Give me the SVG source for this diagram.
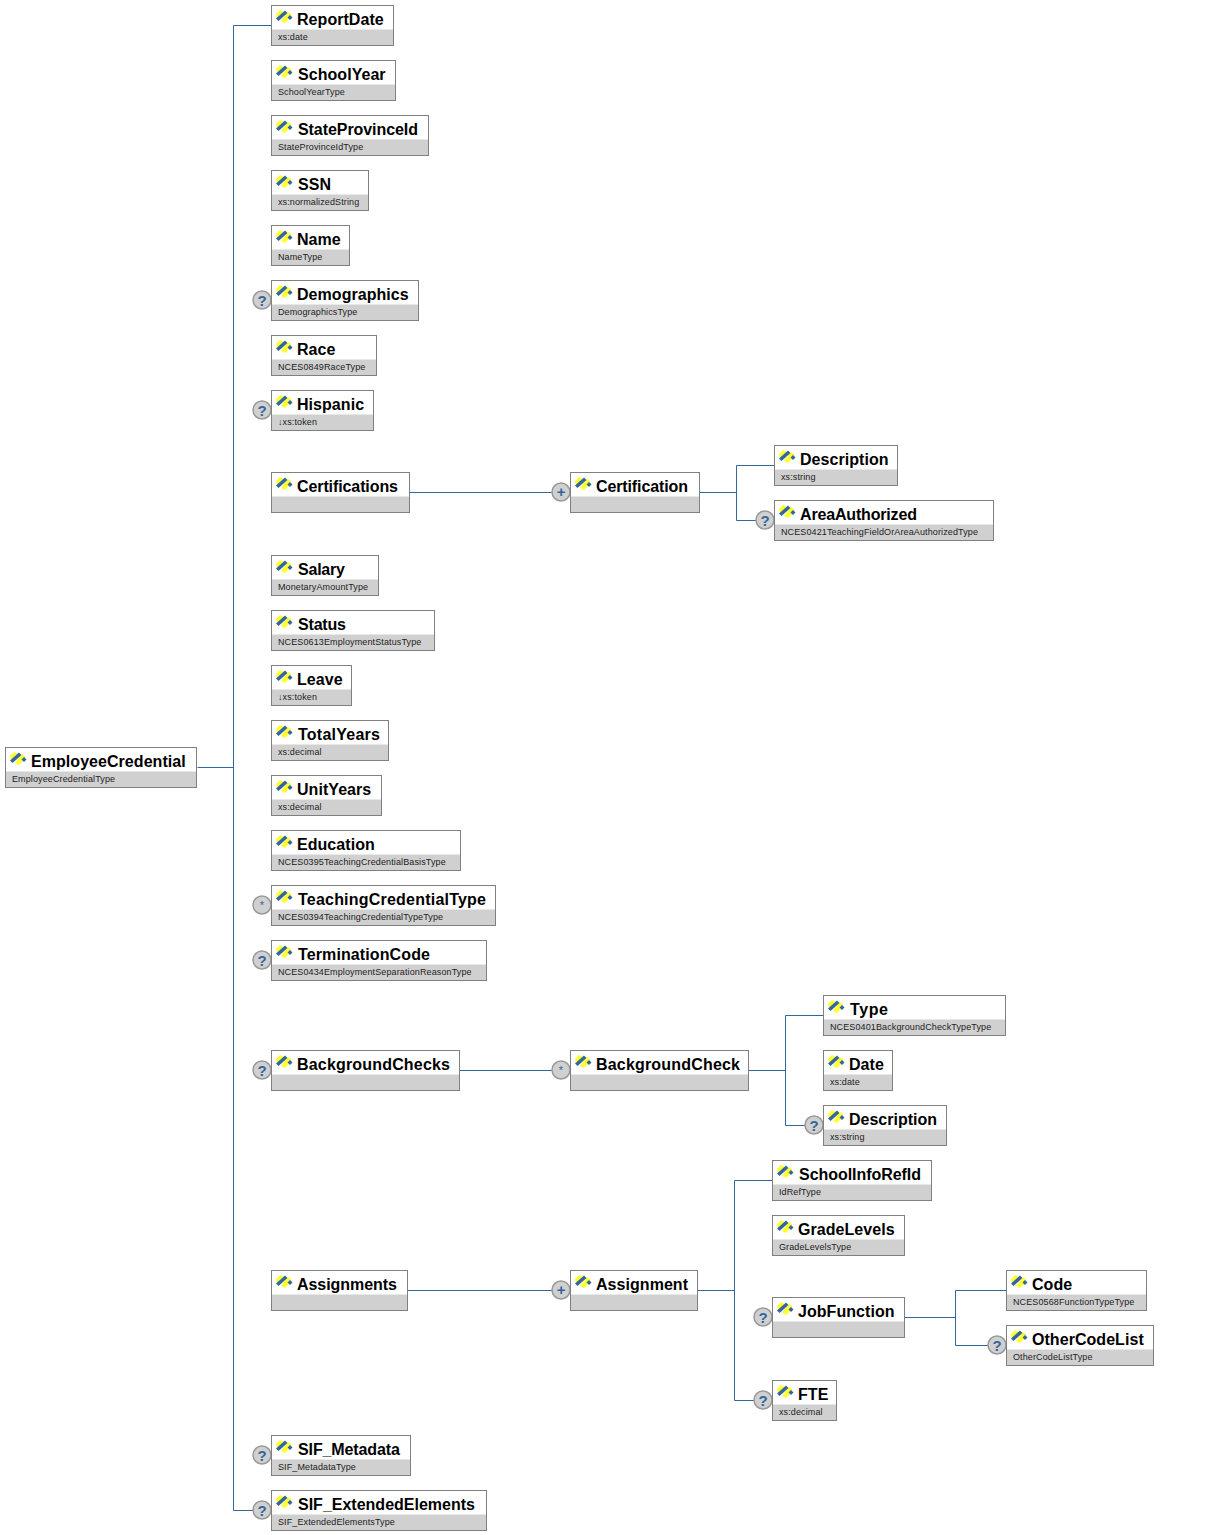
<svg xmlns="http://www.w3.org/2000/svg" width="1212" height="1535" viewBox="0 0 1212 1535">
<style>
.b{fill:#fff;stroke:#808080;stroke-width:1}
.g{fill:#d0d0d0}
.h{fill:#e8e8e8}
.t{font-family:"Liberation Sans",Arial,sans-serif;font-weight:700;font-size:16px;letter-spacing:.05px;fill:#000}
.s{font-family:"Liberation Sans",Arial,sans-serif;font-size:9px;letter-spacing:.12px;fill:#222}
.c{fill:none;stroke:#336699;stroke-width:1}
.o{fill:#d0d0d0;stroke:#999;stroke-width:1.5}
.m{font-family:"Liberation Sans",Arial,sans-serif;font-weight:700;font-size:15px;fill:#336699;text-anchor:middle}
</style>
<defs>
<g id="i"><path d="M0 4 4 0 8 2 1 8zM5 11 12 2 15 4 15 7 9 13z" fill="#ffff33"/><path d="M0 8.500 9 .5 11.500 3 2.500 11z" fill="#336699"/><path d="M14 5 16.500 7.500 14 10 11.500 7.500z" fill="#336699"/></g>
<g id="q"><circle cx="0" cy="0" r="9" class="o"/><text y="5.500" class="m">?</text></g>
<g id="p"><circle cx="0" cy="0" r="9" class="o"/><text y="5" class="m">+</text></g>
<g id="a"><circle cx="0" cy="0" r="9" class="o"/><text y="3.500" class="m" style="font-size:11px;font-weight:400">*</text></g>
</defs>
<g id="connectors">
<path class="c" d="M197.500 767.500H233.500M233.500 25.500V1510.500M233.500 25.500H271M233.500 1510.500H262"/>
<path class="c" d="M410 492.500H561M700 492.500H736.500M736.500 465.500V520.500M736.500 465.500H774M736.500 520.500H765"/>
<path class="c" d="M460 1070.500H561M749 1070.500H785.500M785.500 1015.500V1125.500M785.500 1015.500H823M785.500 1125.500H814"/>
<path class="c" d="M408 1290.500H561M698 1290.500H734.500M734.500 1180.500V1400.500M734.500 1180.500H772M734.500 1400.500H763"/>
<path class="c" d="M905 1317.500H955.500M955.500 1290.500V1345.500M955.500 1290.500H1006M955.500 1345.500H997"/>
</g>
<g id="EmployeeCredential"><rect class="b" x="5.500" y="747.500" width="191" height="40"/><rect class="h" x="6" y="771" width="190" height="1"/><rect class="g" x="6" y="772" width="190" height="15"/><use href="#i" x="10" y="752"/><text class="t" x="31" y="767">EmployeeCredential</text><text class="s" x="12" y="782">EmployeeCredentialType</text></g>
<g id="ReportDate"><rect class="b" x="271.500" y="5.500" width="122" height="40"/><rect class="h" x="272" y="29" width="121" height="1"/><rect class="g" x="272" y="30" width="121" height="15"/><use href="#i" x="276" y="10"/><text class="t" x="297" y="25">ReportDate</text><text class="s" x="278" y="40">xs:date</text></g>
<g id="SchoolYear"><rect class="b" x="271.500" y="60.500" width="124" height="40"/><rect class="h" x="272" y="84" width="123" height="1"/><rect class="g" x="272" y="85" width="123" height="15"/><use href="#i" x="276" y="65"/><text class="t" x="298" y="80">SchoolYear</text><text class="s" x="278" y="95">SchoolYearType</text></g>
<g id="StateProvinceId"><rect class="b" x="271.500" y="115.500" width="157" height="40"/><rect class="h" x="272" y="139" width="156" height="1"/><rect class="g" x="272" y="140" width="156" height="15"/><use href="#i" x="276" y="120"/><text class="t" x="298" y="135" textLength="120">StateProvinceId</text><text class="s" x="278" y="150">StateProvinceIdType</text></g>
<g id="SSN"><rect class="b" x="271.500" y="170.500" width="97" height="40"/><rect class="h" x="272" y="194" width="96" height="1"/><rect class="g" x="272" y="195" width="96" height="15"/><use href="#i" x="276" y="175"/><text class="t" x="298" y="190">SSN</text><text class="s" x="278" y="205">xs:normalizedString</text></g>
<g id="Name"><rect class="b" x="271.500" y="225.500" width="78" height="40"/><rect class="h" x="272" y="249" width="77" height="1"/><rect class="g" x="272" y="250" width="77" height="15"/><use href="#i" x="276" y="230"/><text class="t" x="297" y="245">Name</text><text class="s" x="278" y="260">NameType</text></g>
<g id="Demographics"><use href="#q" x="262" y="300"/><rect class="b" x="271.500" y="280.500" width="147" height="40"/><rect class="h" x="272" y="304" width="146" height="1"/><rect class="g" x="272" y="305" width="146" height="15"/><use href="#i" x="276" y="285"/><text class="t" x="297" y="300">Demographics</text><text class="s" x="278" y="315">DemographicsType</text></g>
<g id="Race"><rect class="b" x="271.500" y="335.500" width="105" height="40"/><rect class="h" x="272" y="359" width="104" height="1"/><rect class="g" x="272" y="360" width="104" height="15"/><use href="#i" x="276" y="340"/><text class="t" x="297" y="355">Race</text><text class="s" x="278" y="370">NCES0849RaceType</text></g>
<g id="Hispanic"><use href="#q" x="262" y="410"/><rect class="b" x="271.500" y="390.500" width="102" height="40"/><rect class="h" x="272" y="414" width="101" height="1"/><rect class="g" x="272" y="415" width="101" height="15"/><use href="#i" x="276" y="395"/><text class="t" x="297" y="410">Hispanic</text><text class="s" x="278" y="425">↓xs:token</text></g>
<g id="Certifications"><rect class="b" x="271.500" y="472.500" width="138" height="40"/><rect class="h" x="272" y="496" width="137" height="1"/><rect class="g" x="272" y="497" width="137" height="15"/><use href="#i" x="276" y="477"/><text class="t" x="297" y="492" textLength="101">Certifications</text></g>
<g id="Certification"><use href="#p" x="561" y="492"/><rect class="b" x="570.500" y="472.500" width="129" height="40"/><rect class="h" x="571" y="496" width="128" height="1"/><rect class="g" x="571" y="497" width="128" height="15"/><use href="#i" x="575" y="477"/><text class="t" x="596" y="492" textLength="92">Certification</text></g>
<g id="Description1"><rect class="b" x="774.500" y="445.500" width="123" height="40"/><rect class="h" x="775" y="469" width="122" height="1"/><rect class="g" x="775" y="470" width="122" height="15"/><use href="#i" x="779" y="450"/><text class="t" x="800" y="465">Description</text><text class="s" x="781" y="480">xs:string</text></g>
<g id="AreaAuthorized"><use href="#q" x="765" y="520"/><rect class="b" x="774.500" y="500.500" width="219" height="40"/><rect class="h" x="775" y="524" width="218" height="1"/><rect class="g" x="775" y="525" width="218" height="15"/><use href="#i" x="779" y="505"/><text class="t" x="800" y="520" textLength="117">AreaAuthorized</text><text class="s" x="781" y="535">NCES0421TeachingFieldOrAreaAuthorizedType</text></g>
<g id="Salary"><rect class="b" x="271.500" y="555.500" width="107" height="40"/><rect class="h" x="272" y="579" width="106" height="1"/><rect class="g" x="272" y="580" width="106" height="15"/><use href="#i" x="276" y="560"/><text class="t" x="298" y="575" textLength="47">Salary</text><text class="s" x="278" y="590">MonetaryAmountType</text></g>
<g id="Status"><rect class="b" x="271.500" y="610.500" width="163" height="40"/><rect class="h" x="272" y="634" width="162" height="1"/><rect class="g" x="272" y="635" width="162" height="15"/><use href="#i" x="276" y="615"/><text class="t" x="298" y="630" textLength="48">Status</text><text class="s" x="278" y="645">NCES0613EmploymentStatusType</text></g>
<g id="Leave"><rect class="b" x="271.500" y="665.500" width="80" height="40"/><rect class="h" x="272" y="689" width="79" height="1"/><rect class="g" x="272" y="690" width="79" height="15"/><use href="#i" x="276" y="670"/><text class="t" x="297" y="685">Leave</text><text class="s" x="278" y="700">↓xs:token</text></g>
<g id="TotalYears"><rect class="b" x="271.500" y="720.500" width="117" height="40"/><rect class="h" x="272" y="744" width="116" height="1"/><rect class="g" x="272" y="745" width="116" height="15"/><use href="#i" x="276" y="725"/><text class="t" x="298" y="740" textLength="82">TotalYears</text><text class="s" x="278" y="755">xs:decimal</text></g>
<g id="UnitYears"><rect class="b" x="271.500" y="775.500" width="110" height="40"/><rect class="h" x="272" y="799" width="109" height="1"/><rect class="g" x="272" y="800" width="109" height="15"/><use href="#i" x="276" y="780"/><text class="t" x="297" y="795">UnitYears</text><text class="s" x="278" y="810">xs:decimal</text></g>
<g id="Education"><rect class="b" x="271.500" y="830.500" width="189" height="40"/><rect class="h" x="272" y="854" width="188" height="1"/><rect class="g" x="272" y="855" width="188" height="15"/><use href="#i" x="276" y="835"/><text class="t" x="297" y="850">Education</text><text class="s" x="278" y="865">NCES0395TeachingCredentialBasisType</text></g>
<g id="TeachingCredentialType"><use href="#a" x="262" y="905"/><rect class="b" x="271.500" y="885.500" width="224" height="40"/><rect class="h" x="272" y="909" width="223" height="1"/><rect class="g" x="272" y="910" width="223" height="15"/><use href="#i" x="276" y="890"/><text class="t" x="298" y="905" textLength="188">TeachingCredentialType</text><text class="s" x="278" y="920">NCES0394TeachingCredentialTypeType</text></g>
<g id="TerminationCode"><use href="#q" x="262" y="960"/><rect class="b" x="271.500" y="940.500" width="215" height="40"/><rect class="h" x="272" y="964" width="214" height="1"/><rect class="g" x="272" y="965" width="214" height="15"/><use href="#i" x="276" y="945"/><text class="t" x="298" y="960" textLength="132">TerminationCode</text><text class="s" x="278" y="975">NCES0434EmploymentSeparationReasonType</text></g>
<g id="BackgroundChecks"><use href="#q" x="262" y="1070"/><rect class="b" x="271.500" y="1050.500" width="188" height="40"/><rect class="h" x="272" y="1074" width="187" height="1"/><rect class="g" x="272" y="1075" width="187" height="15"/><use href="#i" x="276" y="1055"/><text class="t" x="297" y="1070" textLength="153">BackgroundChecks</text></g>
<g id="BackgroundCheck"><use href="#a" x="561" y="1070"/><rect class="b" x="570.500" y="1050.500" width="178" height="40"/><rect class="h" x="571" y="1074" width="177" height="1"/><rect class="g" x="571" y="1075" width="177" height="15"/><use href="#i" x="575" y="1055"/><text class="t" x="596" y="1070" textLength="144">BackgroundCheck</text></g>
<g id="Type"><rect class="b" x="823.500" y="995.500" width="182" height="40"/><rect class="h" x="824" y="1019" width="181" height="1"/><rect class="g" x="824" y="1020" width="181" height="15"/><use href="#i" x="828" y="1000"/><text class="t" x="850" y="1015" textLength="38">Type</text><text class="s" x="830" y="1030">NCES0401BackgroundCheckTypeType</text></g>
<g id="Date"><rect class="b" x="823.500" y="1050.500" width="69" height="40"/><rect class="h" x="824" y="1074" width="68" height="1"/><rect class="g" x="824" y="1075" width="68" height="15"/><use href="#i" x="828" y="1055"/><text class="t" x="849" y="1070">Date</text><text class="s" x="830" y="1085">xs:date</text></g>
<g id="Description2"><use href="#q" x="814" y="1125"/><rect class="b" x="823.500" y="1105.500" width="123" height="40"/><rect class="h" x="824" y="1129" width="122" height="1"/><rect class="g" x="824" y="1130" width="122" height="15"/><use href="#i" x="828" y="1110"/><text class="t" x="849" y="1125" textLength="88">Description</text><text class="s" x="830" y="1140">xs:string</text></g>
<g id="Assignments"><rect class="b" x="271.500" y="1270.500" width="136" height="40"/><rect class="h" x="272" y="1294" width="135" height="1"/><rect class="g" x="272" y="1295" width="135" height="15"/><use href="#i" x="276" y="1275"/><text class="t" x="297" y="1290" textLength="100">Assignments</text></g>
<g id="Assignment"><use href="#p" x="561" y="1290"/><rect class="b" x="570.500" y="1270.500" width="127" height="40"/><rect class="h" x="571" y="1294" width="126" height="1"/><rect class="g" x="571" y="1295" width="126" height="15"/><use href="#i" x="575" y="1275"/><text class="t" x="596" y="1290">Assignment</text></g>
<g id="SchoolInfoRefId"><rect class="b" x="772.500" y="1160.500" width="159" height="40"/><rect class="h" x="773" y="1184" width="158" height="1"/><rect class="g" x="773" y="1185" width="158" height="15"/><use href="#i" x="777" y="1165"/><text class="t" x="799" y="1180" textLength="122">SchoolInfoRefId</text><text class="s" x="779" y="1195">IdRefType</text></g>
<g id="GradeLevels"><rect class="b" x="772.500" y="1215.500" width="132" height="40"/><rect class="h" x="773" y="1239" width="131" height="1"/><rect class="g" x="773" y="1240" width="131" height="15"/><use href="#i" x="777" y="1220"/><text class="t" x="798" y="1235">GradeLevels</text><text class="s" x="779" y="1250">GradeLevelsType</text></g>
<g id="JobFunction"><use href="#q" x="763" y="1317"/><rect class="b" x="772.500" y="1297.500" width="132" height="40"/><rect class="h" x="773" y="1321" width="131" height="1"/><rect class="g" x="773" y="1322" width="131" height="15"/><use href="#i" x="777" y="1302"/><text class="t" x="798" y="1317">JobFunction</text></g>
<g id="FTE"><use href="#q" x="763" y="1400"/><rect class="b" x="772.500" y="1380.500" width="64" height="40"/><rect class="h" x="773" y="1404" width="63" height="1"/><rect class="g" x="773" y="1405" width="63" height="15"/><use href="#i" x="777" y="1385"/><text class="t" x="798" y="1400">FTE</text><text class="s" x="779" y="1415">xs:decimal</text></g>
<g id="Code"><rect class="b" x="1006.500" y="1270.500" width="140" height="40"/><rect class="h" x="1007" y="1294" width="139" height="1"/><rect class="g" x="1007" y="1295" width="139" height="15"/><use href="#i" x="1011" y="1275"/><text class="t" x="1032" y="1290">Code</text><text class="s" x="1013" y="1305">NCES0568FunctionTypeType</text></g>
<g id="OtherCodeList"><use href="#q" x="997" y="1345"/><rect class="b" x="1006.500" y="1325.500" width="147" height="40"/><rect class="h" x="1007" y="1349" width="146" height="1"/><rect class="g" x="1007" y="1350" width="146" height="15"/><use href="#i" x="1011" y="1330"/><text class="t" x="1032" y="1345">OtherCodeList</text><text class="s" x="1013" y="1360">OtherCodeListType</text></g>
<g id="SIF_Metadata"><use href="#q" x="262" y="1455"/><rect class="b" x="271.500" y="1435.500" width="139" height="40"/><rect class="h" x="272" y="1459" width="138" height="1"/><rect class="g" x="272" y="1460" width="138" height="15"/><use href="#i" x="276" y="1440"/><text class="t" x="298" y="1455" textLength="102">SIF_Metadata</text><text class="s" x="278" y="1470">SIF_MetadataType</text></g>
<g id="SIF_ExtendedElements"><use href="#q" x="262" y="1510"/><rect class="b" x="271.500" y="1490.500" width="215" height="40"/><rect class="h" x="272" y="1514" width="214" height="1"/><rect class="g" x="272" y="1515" width="214" height="15"/><use href="#i" x="276" y="1495"/><text class="t" x="298" y="1510" textLength="177">SIF_ExtendedElements</text><text class="s" x="278" y="1525">SIF_ExtendedElementsType</text></g>
</svg>
